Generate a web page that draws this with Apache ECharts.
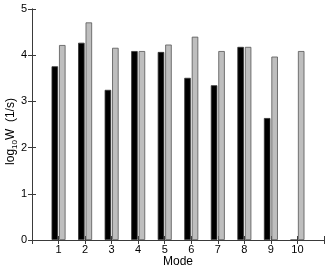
<!DOCTYPE html>
<html><head><meta charset="utf-8">
<script src="https://cdn.jsdelivr.net/npm/echarts@6/dist/echarts.min.js"></script>
<style>html,body{margin:0;padding:0;background:#fff}#c{width:327px;height:269px}</style>
</head><body><div id="c"></div>
<script>
var modes = [1,2,3,4,5,6,7,8,9,10];
var blackVals = [3.76,4.27,3.25,4.09,4.07,3.51,3.35,4.18,2.64,0];
var grayVals  = [4.22,4.71,4.16,4.09,4.23,4.40,4.09,4.18,3.97,4.09];
var yTicks = [0,1,2,3,4,5];

var font = 'Liberation Sans, Arial, sans-serif';
var axisCol = '#3a3a3a';
var chart = echarts.init(document.getElementById('c'));
function pairs(v){ return modes.map(function(m,i){ return [m, v[i]]; }); }
chart.setOption({
  animation:false,
  grid:{left:32,right:3,top:9,bottom:29,containLabel:false,outerBoundsMode:'none'},
  xAxis:[{
    type:'value',min:0,max:11,interval:1,position:'bottom',
    name:'Mode',nameLocation:'middle',nameGap:16,nameMoveOverlap:false,
    nameTextStyle:{fontFamily:font,fontSize:12,color:'#000'},
    axisLine:{show:true,lineStyle:{color:axisCol,width:1}},
    axisTick:{show:true,inside:true,length:4,lineStyle:{color:axisCol}},
    axisLabel:{fontFamily:font,fontSize:11,color:'#000',margin:4,
      formatter:function(v){ return modes.indexOf(v)>=0 ? String(v) : ''; }},
    splitLine:{show:false}
  },{
    type:'value',min:0,max:11,interval:1,position:'top',
    axisLine:{show:true,lineStyle:{color:axisCol,width:1}},
    axisTick:{show:true,inside:true,length:4,lineStyle:{color:axisCol}},
    axisLabel:{show:false},splitLine:{show:false}
  }],
  yAxis:[{
    type:'value',min:0,max:5,interval:1,position:'left',
    name:'{a|log}{b|10}{a|W  (1/s)}',nameLocation:'middle',nameGap:13,nameRotate:90,nameMoveOverlap:false,
    nameTextStyle:{padding:[0,14,0,0],rich:{
      a:{fontFamily:font,fontSize:12,color:'#000',verticalAlign:'top',lineHeight:14},
      b:{fontFamily:font,fontSize:8,color:'#000',verticalAlign:'bottom',lineHeight:8,padding:[10,0,0,0]}
    }},
    axisLine:{show:true,lineStyle:{color:axisCol,width:1}},
    axisTick:{show:true,inside:true,length:4,lineStyle:{color:axisCol}},
    axisLabel:{fontFamily:font,fontSize:11,color:'#000',margin:5,
      formatter:function(v){ return yTicks.indexOf(v)>=0 ? String(v) : ''; }},
    splitLine:{show:false}
  },{
    type:'value',min:0,max:5,interval:1,position:'right',
    axisLine:{show:true,lineStyle:{color:axisCol,width:1}},
    axisTick:{show:true,inside:true,length:4,lineStyle:{color:axisCol}},
    axisLabel:{show:false},splitLine:{show:false}
  }],
  series:[{
    type:'bar',xAxisIndex:0,yAxisIndex:0,data:pairs(blackVals),
    barWidth:6.5,barGap:'15%',
    itemStyle:{color:'#000',borderColor:'#333',borderWidth:0.8}
  },{
    type:'bar',xAxisIndex:0,yAxisIndex:0,data:pairs(grayVals),
    barWidth:6.5,barGap:'15%',
    itemStyle:{color:'#bebebe',borderColor:'#555',borderWidth:0.8}
  }]
});
</script></body></html>
